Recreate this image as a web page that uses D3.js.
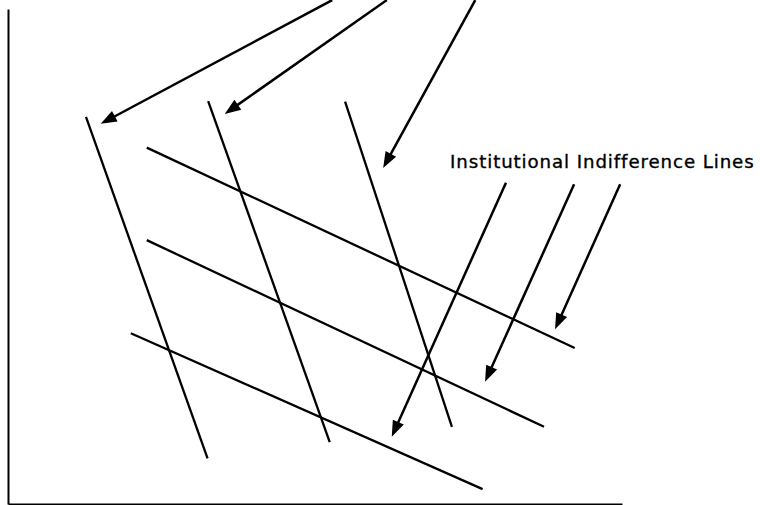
<!DOCTYPE html>
<html>
<head>
<meta charset="utf-8">
<script src="https://cdn.jsdelivr.net/npm/d3@7"></script>
<style>
  html, body { margin: 0; padding: 0; background: #fff; }
  svg { display: block; }
</style>
</head>
<body>
<svg id="chart" width="760" height="505"></svg>
<script>
// Steep (decreasing) lines: [x1, y1, x2, y2] in chart units (0-100)
const steepLines = [
  [12.7, 78.2, 32.5, 9.2],
  [32.6, 81.4, 52.4, 12.5],
  [54.9, 81.3, 72.3, 15.6]
];
// Institutional indifference lines (shallow)
const indifferenceLines = [
  [22.6, 72.0, 92.3, 31.5],
  [22.6, 53.3, 87.3, 15.6],
  [20.0, 34.5, 77.3, 3.0]
];
// Arrows: [fromX, fromY, tipX, tipY]
const upperArrows = [
  [52.8, 101.8, 15.1, 76.8],
  [61.7, 101.8, 35.3, 78.8],
  [76.1, 101.8, 61.1, 67.9]
];
const lowerArrows = [
  [81.1, 64.9, 62.5, 13.6],
  [92.2, 64.6, 77.7, 24.7],
  [99.7, 64.6, 89.1, 35.3]
];
const labelText = ["Institutional Indifference Lines"];
const labelPos = [72.0, 67.9];

const svg = d3.select("#chart");
const x = d3.scaleLinear().domain([0, 100]).range([8, 622]);
const y = d3.scaleLinear().domain([0, 100]).range([504, 9]);

// Axes (no ticks)
svg.append("g")
  .attr("transform", `translate(0,${y(0)})`)
  .call(d3.axisBottom(x).tickValues([]).tickSizeOuter(0))
  .select(".domain").attr("stroke", "#000").attr("stroke-width", 2);
svg.append("g")
  .attr("transform", `translate(${x(0)},0)`)
  .call(d3.axisLeft(y).tickValues([]).tickSizeOuter(0))
  .select(".domain").attr("stroke", "#000").attr("stroke-width", 2);

function drawLines(data) {
  svg.append("g").selectAll("line").data(data).join("line")
    .attr("x1", d => x(d[0])).attr("y1", d => y(d[1]))
    .attr("x2", d => x(d[2])).attr("y2", d => y(d[3]))
    .attr("stroke", "#000").attr("stroke-width", 2.3)
    .attr("stroke-linecap", "butt");
}
drawLines(steepLines);
drawLines(indifferenceLines);

const headLen = 16, headHalf = 6;
function drawArrows(data) {
  const g = svg.append("g");
  data.forEach(d => {
    const x1 = x(d[0]), y1 = y(d[1]), x2 = x(d[2]), y2 = y(d[3]);
    const dx = x2 - x1, dy = y2 - y1, L = Math.hypot(dx, dy);
    const ux = dx / L, uy = dy / L;
    const bx = x2 - ux * headLen, by = y2 - uy * headLen;
    g.append("line")
      .attr("x1", x1).attr("y1", y1).attr("x2", bx + ux * 2).attr("y2", by + uy * 2)
      .attr("stroke", "#000").attr("stroke-width", 2.5);
    g.append("path")
      .attr("d", `M${x2},${y2}L${bx - uy * headHalf},${by + ux * headHalf}L${bx + uy * headHalf},${by - ux * headHalf}Z`)
      .attr("fill", "#000");
  });
}
drawArrows(upperArrows);
drawArrows(lowerArrows);

svg.append("g").selectAll("text").data(labelText).join("text")
  .attr("x", x(labelPos[0])).attr("y", y(labelPos[1]))
  .attr("font-family", "DejaVu Sans, sans-serif")
  .attr("font-size", 18.2)
  .attr("letter-spacing", 0.9)
  .attr("fill", "#000")
  .attr("stroke", "#000")
  .attr("stroke-width", 0.35)
  .text(d => d);
</script>
</body>
</html>
